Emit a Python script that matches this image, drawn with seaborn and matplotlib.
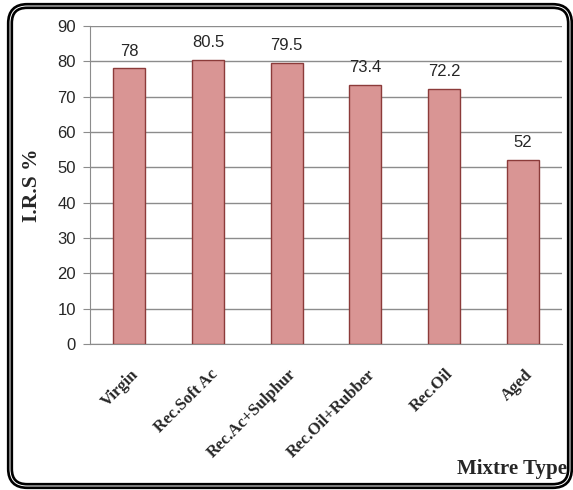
import pandas as pd
import seaborn as sns
import matplotlib.pyplot as plt
from matplotlib.patches import FancyBboxPatch
from matplotlib.transforms import ScaledTranslation

mixes = ['Virgin', 'Rec.Soft Ac', 'Rec.Ac+Sulphur', 'Rec.Oil+Rubber', 'Rec.Oil', 'Aged']
irs = [78, 80.5, 79.5, 73.4, 72.2, 52]
value_labels = ['78', '80.5', '79.5', '73.4', '72.2', '52']

df = pd.DataFrame({'mix': mixes, 'irs': irs})

sns.set_style('white')
plt.rcParams['font.family'] = ['Liberation Sans', 'DejaVu Sans']

fig = plt.figure(figsize=(5.73, 4.9), dpi=100)
ax = fig.add_axes([90 / 573, 1 - 344 / 490, 472 / 573, 318 / 490])

sns.barplot(data=df, x='mix', y='irs', color='#d99594', edgecolor='#8c3b3a',
            linewidth=1, width=0.41, saturation=1, ax=ax, zorder=3)

for i, v in enumerate(irs):
    ax.text(i, v + 2.8, value_labels[i], ha='center', va='bottom', fontsize=12)

ax.set_ylim(0, 90)
ax.set_yticks(range(0, 91, 10))
ax.yaxis.grid(True, color='#8c8c8c', linewidth=1, zorder=0)
ax.set_axisbelow(True)
for s in ['top', 'right']:
    ax.spines[s].set_visible(False)
ax.spines['left'].set_color('#8c8c8c')
ax.spines['bottom'].set_color('#8c8c8c')
ax.tick_params(axis='y', labelsize=12, length=5, color='#8c8c8c', left=True, pad=5)
ax.tick_params(axis='x', length=0, pad=16)
ax.set_xticks(range(len(mixes)))
ax.set_xticklabels(mixes, rotation=45, ha='right', rotation_mode='anchor',
                   family='Liberation Serif', fontweight='bold', fontsize=12)
shift = ScaledTranslation(1 / 72, 0, fig.dpi_scale_trans)
for lab in ax.get_xticklabels():
    lab.set_transform(lab.get_transform() + shift)
ax.set_xlabel('')
ax.set_ylabel('I.R.S %', family='Liberation Serif', fontweight='bold', fontsize=15.5, labelpad=11)

fig.text(567 / 573, 1 - 469 / 490, 'Mixtre Type', ha='right', va='center',
         family='Liberation Serif', fontweight='bold', fontsize=15)

box = dict(boxstyle='round,pad=0,rounding_size=0.03', transform=fig.transFigure,
           fill=False, mutation_aspect=573 / 490)
frame = FancyBboxPatch((10 / 573, 4 / 490), 560 / 573, 480 / 490,
                       edgecolor='black', linewidth=4.5, **box)
inner = FancyBboxPatch((10 / 573, 4 / 490), 560 / 573, 480 / 490,
                       edgecolor='white', linewidth=0.7, **box)
fig.patches.extend([frame, inner])

fig.savefig('out.png', dpi=100)
